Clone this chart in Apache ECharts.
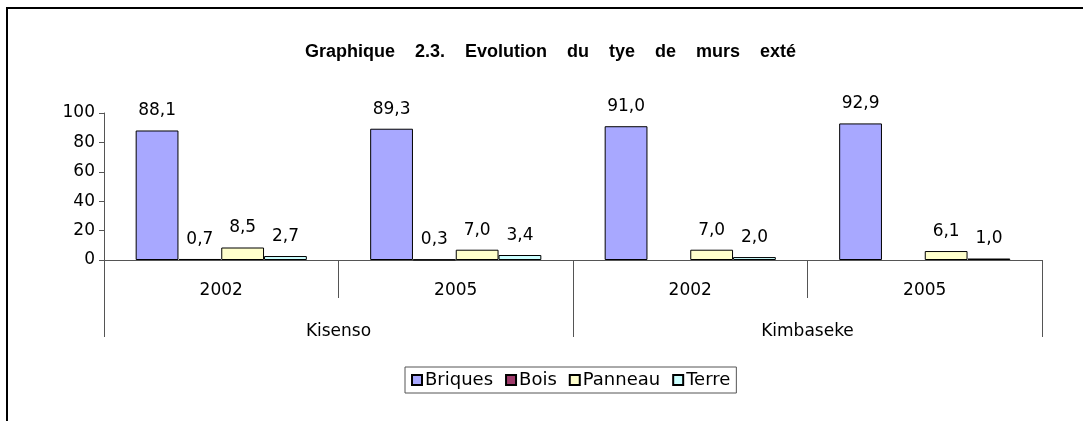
<!DOCTYPE html>
<html>
<head>
<meta charset="utf-8">
<script src="https://cdn.jsdelivr.net/npm/echarts@6/dist/echarts.min.js"></script>
<style>
html,body{margin:0;padding:0;background:#fff;}
#chart{width:1083px;height:421px;}
</style>
</head>
<body>
<div id="chart"></div>
<script>
const titleText = 'Graphique    2.3.    Evolution    du    tye    de    murs    exté';
const years = ['2002', '2005', '2002', '2005'];
const communes = ['Kisenso', 'Kimbaseke'];
const seriesNames = ['Briques', 'Bois', 'Panneau', 'Terre'];
const briques = [88.1, 89.3, 91.0, 92.9];
const bois = [0.7, 0.3, null, null];
const panneau = [8.5, 7.0, 7.0, 6.1];
const terre = [2.7, 3.4, 2.0, 1.0];
const yTicks = [0, 20, 40, 60, 80, 100];
const colors = ['#A8A8FF', '#9E3A6A', '#FFFFCC', '#CCFFFF'];

const values = [briques, bois, panneau, terre];
const fontFam = '"DejaVu Sans", Verdana, sans-serif';

const chart = echarts.init(document.getElementById('chart'), null, {renderer: 'canvas'});
chart.setOption({
  backgroundColor: '#ffffff',
  animation: false,
  title: {
    text: titleText,
    left: 300,
    top: 38,
    textStyle: {fontFamily: '"Liberation Sans Narrow", "Liberation Sans", Arial, sans-serif', fontWeight: 'bold', fontSize: 18, color: '#000'}
  },
  graphic: [{
    type: 'rect', silent: true, z: -1,
    shape: {x: 7, y: 8, width: 1200, height: 600},
    style: {fill: 'none', stroke: '#000', lineWidth: 2}
  }],
  legend: {
    data: seriesNames,
    left: 405,
    top: 367,
    icon: 'rect',
    itemWidth: 10,
    itemHeight: 10,
    itemGap: 12,
    padding: [4, 6],
    borderColor: '#555',
    borderWidth: 1,
    textStyle: {fontFamily: fontFam, fontSize: 18, color: '#000', padding: [0, 0, 0, -2]}
  },
  grid: {left: 104, right: 41, top: 113, bottom: 161, containLabel: false},
  yAxis: {
    type: 'value',
    min: 0, max: 100, interval: 20,
    axisLine: {show: true, lineStyle: {color: '#555', width: 1}},
    axisTick: {show: true, length: 5, lineStyle: {color: '#555'}},
    splitLine: {show: false},
    axisLabel: {fontFamily: fontFam, fontSize: 17, color: '#000', margin: 9,
      formatter: v => yTicks.includes(v) ? String(v) : ''}
  },
  xAxis: [{
    type: 'category',
    data: years,
    position: 'bottom',
    axisLine: {show: true, lineStyle: {color: '#555', width: 1}},
    axisTick: {show: true, interval: 0, length: 38, lineStyle: {color: '#555'}},
    axisLabel: {interval: 0, fontFamily: fontFam, fontSize: 17, color: '#000', margin: 22}
  }, {
    type: 'category',
    data: communes,
    position: 'bottom',
    axisLine: {show: false},
    axisTick: {show: true, interval: 0, length: 77, lineStyle: {color: '#555'}},
    axisLabel: {interval: 0, fontFamily: fontFam, fontSize: 17, color: '#000', margin: 63}
  }],
  series: seriesNames.map((name, i) => ({
    name: name,
    type: 'bar',
    xAxisIndex: 0,
    data: values[i],
    barGap: '0%',
    barCategoryGap: '27%',
    itemStyle: {color: colors[i], borderColor: '#000', borderWidth: 1},
    label: {
      show: true,
      position: 'top',
      distance: 11,
      fontFamily: fontFam,
      fontSize: 17,
      color: '#000',
      formatter: p => (p.value == null ? '' : p.value.toFixed(1).replace('.', ','))
    }
  }))
});
</script>
</body>
</html>
